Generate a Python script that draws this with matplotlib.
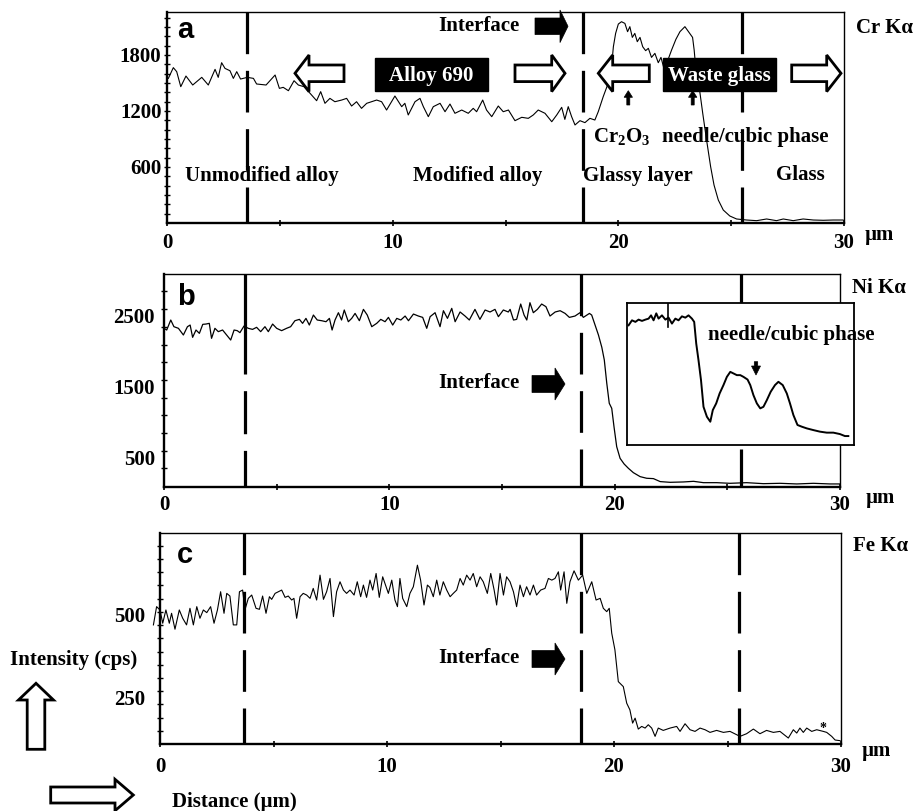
import matplotlib
matplotlib.use('Agg')
import matplotlib.pyplot as plt
from matplotlib.patches import Polygon, Rectangle
import numpy as np

# ---------------- data (distance in um, intensity in cps) ----------------
cr_profile = [(0.06,1549),(0.28,1664),(0.43,1621),(0.61,1460),(0.84,1574),(1.14,1478),(1.54,1560),
    (1.83,1478),(2.13,1646),(2.27,1560),(2.42,1717),(2.57,1656),(2.79,1631),(2.94,1549),(3.09,1621),
    (3.26,1542),(3.56,1560),(3.83,1549),(3.97,1489),(4.39,1478),(4.79,1585),(4.98,1442),(5.15,1453),
    (5.38,1417),(5.63,1524),(5.82,1478),(6.07,1460),(6.34,1389),(6.63,1310),(6.81,1407),(7.00,1282),
    (7.22,1335),(7.44,1299),(7.74,1317),(7.96,1335),(8.18,1253),(8.40,1299),(8.62,1228),(8.85,1282),
    (9.07,1299),(9.29,1317),(9.51,1299),(9.73,1210),(10.10,1360),(10.40,1246),(10.54,1282),(10.69,1157),
    (10.99,1299),(11.21,1335),(11.36,1246),(11.58,1139),(11.80,1246),(12.10,1282),(12.32,1192),
    (12.54,1274),(12.76,1175),(13.06,1210),(13.35,1175),(13.57,1228),(13.72,1192),(13.99,1317),
    (14.16,1210),(14.39,1139),(14.68,1253),(14.90,1192),(15.13,1210),(15.42,1096),(15.72,1132),
    (16.01,1121),(16.23,1157),(16.45,1210),(16.75,1175),(17.05,1085),(17.27,1157),(17.49,1239),
    (17.63,1110),(17.78,1246),(17.93,1139),(18.08,1050),(18.30,1096),(18.52,1075),(18.74,1121),
    (18.96,1103),(19.11,1192),(19.33,1353),(19.55,1496),(19.70,1674),(19.78,1888),(19.88,2031),
    (20.00,2131),(20.14,2156),(20.29,2138),(20.41,2049),(20.51,2103),(20.62,1988),(20.73,2031),
    (20.84,1942),(20.96,1988),(21.08,1888),(21.21,1846),(21.33,1871),(21.47,1774),(21.62,1817),
    (21.77,1717),(21.89,1774),(22.02,1656),(22.17,1728),(22.36,1853),(22.55,1967),(22.73,2049),
    (22.95,2103),(23.14,2038),(23.29,1988),(23.36,1853),(23.44,1639),(23.59,1442),(23.74,1175),
    (23.91,889),(24.09,603),(24.24,407),(24.43,246),(24.65,139),(24.94,75),(25.24,43),(25.68,32),
    (26.13,25),(26.57,43),(27.01,25),(27.31,43),(27.75,25),(28.19,43),(28.64,32),(29.08,29),
    (29.52,32),(29.96,32)]

ni_profile = [(0.00,2326),(0.12,2302),(0.30,2443),(0.44,2349),(0.64,2326),(0.86,2232),(1.04,2349),
    (1.16,2372),(1.27,2199),(1.42,2302),(1.57,2255),(1.72,2382),(1.86,2386),(2.01,2396),(2.11,2185),
    (2.26,2326),(2.41,2279),(2.60,2302),(2.78,2232),(2.96,2161),(3.11,2302),(3.25,2293),(3.37,2265),
    (3.55,2358),(3.74,2326),(3.93,2311),(4.11,2340),(4.29,2279),(4.48,2349),(4.63,2279),(4.82,2386),
    (5.00,2326),(5.22,2293),(5.44,2326),(5.62,2349),(5.81,2433),(6.01,2452),(6.15,2396),(6.30,2466),
    (6.45,2372),(6.63,2513),(6.80,2443),(7.00,2433),(7.19,2419),(7.34,2466),(7.46,2302),(7.59,2443),
    (7.74,2546),(7.88,2443),(8.00,2584),(8.18,2419),(8.33,2466),(8.48,2536),(8.67,2433),(8.85,2593),
    (9.02,2513),(9.22,2349),(9.44,2396),(9.62,2452),(9.81,2419),(9.96,2480),(10.15,2372),(10.33,2466),
    (10.51,2443),(10.70,2499),(10.85,2433),(11.07,2527),(11.29,2499),(11.48,2480),(11.66,2326),
    (11.81,2490),(12.03,2546),(12.25,2349),(12.40,2574),(12.58,2466),(12.77,2607),(12.92,2419),
    (13.14,2556),(13.36,2499),(13.55,2443),(13.80,2593),(14.02,2452),(14.25,2584),(14.47,2556),
    (14.69,2593),(14.84,2490),(15.06,2584),(15.28,2556),(15.36,2593),(15.51,2443),(15.65,2452),
    (15.83,2668),(15.98,2513),(16.10,2443),(16.24,2687),(16.39,2546),(16.57,2593),(16.76,2668),
    (16.95,2631),(17.13,2499),(17.36,2556),(17.58,2574),(17.80,2536),(17.99,2480),(18.24,2499),
    (18.46,2546),(18.61,2480),(18.88,2536),(18.98,2513),(19.13,2372),(19.28,2232),(19.43,2058),
    (19.54,1880),(19.65,1551),(19.76,1270),(19.87,1199),(19.97,941),(20.09,659),(20.24,495),
    (20.42,415),(20.61,354),(20.83,293),(21.13,237),(21.42,214),(21.72,209),(22.02,167),(22.46,157),
    (23.05,162),(23.50,171),(23.94,152),(24.53,152),(25.12,143),(25.86,152),(26.60,138),(27.34,143),
    (28.08,134),(28.82,143),(29.56,134),(30.00,134)]

fe_profile = [(-0.29,470),(-0.15,525),(0.00,515),(0.12,475),(0.26,515),(0.41,475),(0.51,505),
    (0.66,457),(0.85,515),(1.00,490),(1.17,470),(1.32,520),(1.47,470),(1.62,525),(1.76,490),(1.91,515),
    (2.06,507),(2.23,525),(2.38,475),(2.53,515),(2.67,570),(2.82,505),(2.94,565),(3.08,557),(3.23,470),
    (3.38,470),(3.50,570),(3.64,575),(3.74,515),(3.89,550),(4.04,560),(4.23,520),(4.38,517),(4.52,557),
    (4.67,505),(4.82,555),(4.92,547),(5.07,565),(5.21,570),(5.36,575),(5.51,553),(5.65,557),(5.80,545),
    (5.90,550),(6.02,490),(6.17,555),(6.31,565),(6.46,560),(6.61,550),(6.75,580),(6.90,545),(7.05,620),
    (7.20,547),(7.34,570),(7.49,610),(7.64,495),(7.78,570),(7.93,600),(8.08,575),(8.22,565),(8.37,575),
    (8.55,560),(8.69,600),(8.84,555),(8.96,590),(9.10,553),(9.25,605),(9.37,575),(9.52,625),(9.66,553),
    (9.81,615),(9.96,585),(10.06,565),(10.21,605),(10.35,545),(10.46,525),(10.57,610),(10.69,550),
    (10.87,525),(11.01,565),(11.16,585),(11.34,650),(11.48,605),(11.63,530),(11.78,590),(11.89,583),
    (12.04,555),(12.19,605),(12.33,560),(12.48,600),(12.63,575),(12.78,555),(12.92,565),(13.07,575),
    (13.22,610),(13.36,590),(13.51,620),(13.66,605),(13.80,625),(13.95,585),(14.10,615),(14.24,600),
    (14.42,565),(14.57,625),(14.72,575),(14.83,530),(14.98,625),(15.13,560),(15.27,615),(15.42,600),
    (15.57,570),(15.71,525),(15.86,590),(16.01,555),(16.15,585),(16.30,560),(16.45,590),(16.59,560),
    (16.77,575),(16.96,580),(17.11,610),(17.26,605),(17.40,610),(17.55,630),(17.65,575),(17.80,630),
    (17.92,535),(18.06,600),(18.24,633),(18.43,605),(18.62,620),(18.80,565),(19.02,600),(19.21,545),
    (19.39,550),(19.53,520),(19.68,510),(19.79,520),(19.90,445),(20.04,395),(20.19,299),(20.41,284),
    (20.56,234),(20.70,214),(20.82,174),(20.93,189),(21.07,156),(21.22,164),(21.37,159),(21.51,169),
    (21.66,159),(21.81,134),(21.95,159),(22.17,152),(22.47,159),(22.76,164),(22.91,149),(23.13,172),
    (23.35,154),(23.57,149),(23.79,159),(24.01,154),(24.23,146),(24.52,152),(24.82,146),(25.11,149),
    (25.55,134),(25.84,142),(26.14,156),(26.43,142),(26.72,152),(27.02,146),(27.31,149),(27.68,129),
    (27.90,154),(28.05,144),(28.19,159),(28.34,146),(28.49,159),(28.71,149),(28.93,154),(29.22,149),
    (29.37,146),(29.59,134),(29.74,123),(29.96,121)]

# inset (arbitrary units, 0-100 both axes)
ni_inset = [(0.7,84.3),(2.2,87.8),(3.7,86.7),(5.1,88.3),(6.6,87.4),(8.1,88.3),(9.5,89.0),(10.6,91.3),
    (11.7,87.8),(12.9,92.7),(13.9,89.0),(15.4,91.3),(16.9,88.3),(18.3,89.7),(19.8,85.5),(21.3,89.0),
    (22.7,87.8),(24.2,90.6),(25.7,89.7),(27.1,91.3),(28.6,89.0),(29.6,86.7),(30.5,71.4),(31.5,59.7),
    (32.6,45.7),(33.7,26.9),(35.2,19.9),(36.7,16.4),(37.8,24.6),(39.3,29.3),(40.8,36.3),(42.5,42.2),
    (44.0,48.0),(45.5,51.5),(46.9,50.4),(48.4,49.2),(49.9,49.2),(51.3,48.0),(53.1,46.1),(54.3,42.2),
    (55.7,35.1),(57.2,29.3),(58.7,25.8),(60.1,26.9),(61.6,31.6),(63.3,37.5),(65.2,42.2),(66.7,44.5),
    (68.6,42.2),(70.4,36.3),(71.8,29.3),(73.3,21.1),(75.1,14.1),(77.0,12.9),(79.2,11.7),(82.1,10.5),
    (85.0,9.4),(88.0,8.7),(90.9,8.7),(93.8,7.7),(96.0,6.3),(97.5,6.3)]

boundaries = [3.55, 18.45, 25.5]
x_ticks = [0, 10, 20, 30]
cr_yticks = [600, 1200, 1800]
ni_yticks = [500, 1500, 2500]
fe_yticks = [250, 500]

# ---------------- figure ----------------
W, H = 914, 811
plt.rcParams['font.family'] = ['Liberation Serif', 'DejaVu Serif']
plt.rcParams['font.weight'] = 'bold'
plt.rcParams['mathtext.fontset'] = 'custom'
plt.rcParams['mathtext.rm'] = 'Liberation Serif:bold'
plt.rcParams['mathtext.default'] = 'regular'
plt.rcParams['lines.scale_dashes'] = False

fig = plt.figure(figsize=(W / 100, H / 100), dpi=100)

def fx(px):
    return px / W

def fy(py):
    return 1 - py / H

def rect(l, t, r, b):
    return [fx(l), fy(b), (r - l) / W, (b - t) / H]

axA = fig.add_axes(rect(167, 12, 844, 223))
axB = fig.add_axes(rect(164, 274, 840, 487))
axC = fig.add_axes(rect(160, 533, 841, 744))

def style(ax, xpad):
    ax.set_xlim(0, 30)
    for s in ['left', 'bottom']:
        ax.spines[s].set_linewidth(1.7)
    for s in ['top', 'right']:
        ax.spines[s].set_linewidth(1.0)
    ax.set_xticks(x_ticks)
    ax.set_xticks([5, 15, 25], minor=True)
    ax.tick_params(axis='x', which='both', direction='inout', length=5, width=1.2,
                   labelsize=15, pad=xpad)
    for lab in ax.get_xticklabels():
        lab.set_fontweight('bold')

def dashed(ax, x, pattern=(30, 12)):
    ax.plot([x, x], [1, 0], transform=ax.get_xaxis_transform(), color='black',
            lw=2.3, dashes=pattern, dash_capstyle='butt', solid_capstyle='butt', zorder=3)

# panel a
cx, cy = zip(*cr_profile)
axA.plot(cx, cy, color='black', lw=0.8)
style(axA, 4.5)
axA.set_ylim(0, 2260)
axA.set_yticks(cr_yticks)
axA.set_yticks(np.arange(100, 2260, 100), minor=True)
axA.tick_params(axis='y', which='both', direction='inout', length=5, width=1.0, labelsize=15, pad=1.5)
for xb in boundaries:
    dashed(axA, xb)

# panel b
nx, ny = zip(*ni_profile)
axB.plot(nx, ny, color='black', lw=0.9)
style(axB, 3)
axB.set_ylim(91, 3091)
axB.set_yticks(ni_yticks)
axB.set_yticks(np.arange(355, 3091, 249), minor=True)
axB.tick_params(axis='y', which='major', length=0, labelsize=15, pad=6.5)
axB.tick_params(axis='y', which='minor', direction='inout', length=5, width=1.0)
dashed(axB, boundaries[0] + 0.05, pattern=(72, 12, 31, 12, 31, 12))
dashed(axB, boundaries[1] + 0.05)
dashed(axB, boundaries[2] + 0.1)

# panel c
ex, ey = zip(*fe_profile)
axC.plot(ex, ey, color='black', lw=0.8, clip_on=False)
style(axC, 7)
axC.set_ylim(111, 747)
axC.set_yticks(fe_yticks)
axC.set_yticks(np.arange(151, 747, 39.8), minor=True)
axC.tick_params(axis='y', which='major', length=0, labelsize=15, pad=10.5)
axC.tick_params(axis='y', which='minor', direction='inout', length=5, width=1.0)
dashed(axC, boundaries[0] + 0.15)
dashed(axC, boundaries[1] + 0.1)
dashed(axC, boundaries[2])

for ax in (axA, axB, axC):
    for lab in ax.get_yticklabels():
        lab.set_fontweight('bold')

# inset
axI = fig.add_axes(rect(627, 303, 854, 445))
ix, iy = zip(*ni_inset)
axI.plot(ix, iy, color='black', lw=1.4)
axI.plot([18, 18], [100, 83], color='black', lw=1.2)
axI.set_xlim(0, 100)
axI.set_ylim(0, 100)
axI.set_xticks([])
axI.set_yticks([])
for s in axI.spines.values():
    s.set_linewidth(1.3)

# ---------------- annotations ----------------
def txt(px, py, s, size=15, ha='left', va='baseline', color='black', family=None, **kw):
    kws = dict(fontsize=size, ha=ha, va=va, color=color, fontweight='bold', zorder=6)
    if family:
        kws['family'] = family
    kws.update(kw)
    fig.text(fx(px), fy(py), s, **kws)

def harrow(x0, x1, xb, yc, h1, h2, fill='white', lw=2.0):
    pts = [(x0, yc - h1), (xb, yc - h1), (xb, yc - h2), (x1, yc), (xb, yc + h2), (xb, yc + h1), (x0, yc + h1)]
    poly = Polygon([(fx(a), fy(b)) for a, b in pts], closed=True, transform=fig.transFigure,
                   facecolor=fill, edgecolor='black', lw=lw, joinstyle='miter', zorder=5)
    fig.add_artist(poly)

def varrow(xc, y0, y1, yb, w1, w2, fill='white', lw=2.0):
    pts = [(xc - w1, y0), (xc - w1, yb), (xc - w2, yb), (xc, y1), (xc + w2, yb), (xc + w1, yb), (xc + w1, y0)]
    poly = Polygon([(fx(a), fy(b)) for a, b in pts], closed=True, transform=fig.transFigure,
                   facecolor=fill, edgecolor='black', lw=lw, joinstyle='miter', zorder=5)
    fig.add_artist(poly)

def blackbox(l, t, r, b, s):
    fig.add_artist(Rectangle((fx(l), fy(b)), (r - l) / W, (b - t) / H, transform=fig.transFigure,
                             facecolor='black', edgecolor='black', zorder=5))
    txt((l + r) / 2, (t + b) / 2 + 1, s, ha='center', va='center', color='white', zorder=7)

sans = ['Liberation Sans', 'DejaVu Sans']

# panel a annotations
txt(177, 38, 'a', size=21, family=sans)
txt(479, 31, 'Interface', ha='center')
harrow(535, 568, 560, 26.3, 8.3, 16.3, fill='black', lw=0.5)
blackbox(375, 58, 488, 91, 'Alloy 690')
blackbox(663, 58, 776, 91, 'Waste glass')
harrow(344, 295, 309, 73.3, 8.3, 18.3)
harrow(515, 565, 551.7, 73.3, 8.3, 18.3)
harrow(649.3, 598.3, 612.7, 73.3, 8.3, 18.3)
harrow(791.7, 841, 826.7, 73.3, 8.3, 18.3)
varrow(628.3, 105, 90.7, 97.3, 1.5, 4.2, fill='black', lw=0.5)
varrow(692.7, 105, 90.7, 97.3, 1.5, 4.2, fill='black', lw=0.5)
txt(593, 142, 'Cr$_2$O$_3$')
txt(662, 142, 'needle/cubic phase')
txt(185, 180.5, 'Unmodified alloy')
txt(413, 180.5, 'Modified alloy')
txt(583, 180.5, 'Glassy layer')
txt(776, 180.5, 'Glass')
txt(856, 33, 'Cr K\u03b1')
txt(865, 240, '\u00b5m')

# panel b annotations
txt(177, 305, 'b', size=21, family=sans)
txt(479, 388, 'Interface', ha='center')
harrow(532, 565, 555, 384, 8.5, 16, fill='black', lw=0.5)
txt(852, 293, 'Ni K\u03b1')
txt(866, 503, '\u00b5m')
txt(708, 340, 'needle/cubic phase', zorder=8)
varrow(756, 361.7, 375, 366, 1.7, 4.5, fill='black', lw=0.5)

# panel c annotations
txt(177, 563, 'c', size=21, family=sans)
txt(479, 663, 'Interface', ha='center')
harrow(532, 565, 555, 659, 8.5, 16, fill='black', lw=0.5)
txt(853, 551, 'Fe K\u03b1')
txt(862, 756, '\u00b5m')
txt(823, 732, '*', size=10, ha='center')

# axis hints
txt(10, 664.5, 'Intensity (cps)')
varrow(36, 749.3, 683.3, 700, 8.8, 17.5)
harrow(50.7, 133.3, 115, 795, 8, 15.7)
txt(172, 807, 'Distance (\u00b5m)')

fig.savefig('out.png', dpi=100)
